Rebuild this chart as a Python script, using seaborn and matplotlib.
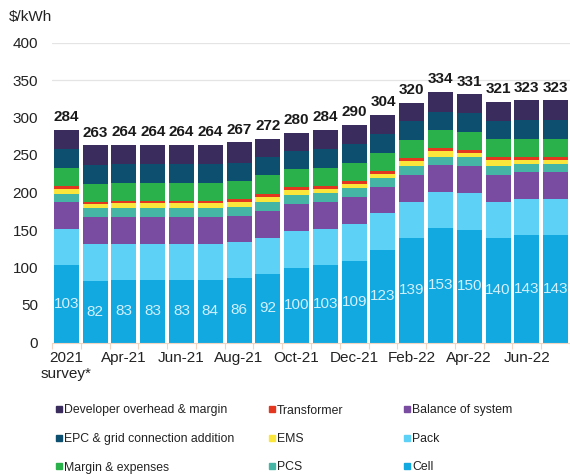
import matplotlib
matplotlib.use("Agg")
import matplotlib.pyplot as plt
import numpy as np
import pandas as pd
import seaborn as sns
from matplotlib.lines import Line2D

# Monthly battery storage system cost breakdown, $/kWh
periods = ["2021 survey*", "Mar-21", "Apr-21", "May-21", "Jun-21", "Jul-21",
           "Aug-21", "Sep-21", "Oct-21", "Nov-21", "Dec-21", "Jan-22",
           "Feb-22", "Mar-22", "Apr-22", "May-22", "Jun-22", "Jul-22"]
tick_labels = ["2021\nsurvey*", "Apr-21", "Jun-21", "Aug-21", "Oct-21",
               "Dec-21", "Feb-22", "Apr-22", "Jun-22"]

cell = [103, 82, 83, 83, 83, 84, 86, 92, 100, 103, 109, 123, 139, 153, 150, 140, 143, 143]
pack = [48, 49, 49, 49, 49, 48, 48, 48, 49, 49, 49, 50, 48, 48, 49, 48, 48, 48]
balance_of_system = [36, 36, 36, 36, 36, 36, 35, 36, 36, 35, 36, 35, 37, 36, 36, 36, 36, 36]
pcs = [11, 12, 12, 12, 12, 12, 12, 12, 12, 12, 12, 11, 12, 11, 12, 12, 11, 11]
ems = [7, 6, 6, 6, 6, 6, 6, 6, 6, 6, 6, 6, 6, 7, 6, 7, 6, 6]
transformer = [4, 3, 3, 3, 3, 3, 4, 4, 4, 4, 4, 4, 4, 4, 4, 4, 4, 4]
margin_expenses = [24, 24, 24, 24, 24, 24, 24, 25, 24, 24, 24, 24, 24, 24, 24, 24, 24, 24]
epc_grid = [25, 25, 25, 25, 25, 25, 25, 25, 25, 25, 25, 25, 25, 25, 25, 25, 25, 25]
developer_overhead = [26, 26, 26, 26, 26, 26, 27, 24, 24, 26, 25, 26, 25, 26, 25, 25, 26, 26]
totals = [284, 263, 264, 264, 264, 264, 267, 272, 280, 284, 290, 304, 320, 334, 331, 321, 323, 323]

# Components from the bottom of each stack to the top
components = [
    ("Cell", cell, "#12a8e0"),
    ("Pack", pack, "#5dd1f6"),
    ("Balance of system", balance_of_system, "#7a4ca1"),
    ("PCS", pcs, "#45b5a6"),
    ("EMS", ems, "#fbe63c"),
    ("Transformer", transformer, "#e3381f"),
    ("Margin & expenses", margin_expenses, "#2bb14b"),
    ("EPC & grid connection addition", epc_grid, "#0c4f6e"),
    ("Developer overhead & margin", developer_overhead, "#3a2c5c"),
]

df = pd.DataFrame({name: vals for name, vals, _ in components}, index=periods)
cumulative = df.cumsum(axis=1)

sns.set_theme(style="white")
plt.rcParams["font.family"] = ["Liberation Sans", "DejaVu Sans"]

fig = plt.figure(figsize=(5.7, 4.75), dpi=100)
ax = fig.add_axes([52 / 570, 132.5 / 475, 518 / 570, 300 / 475])

# Light reference lines above the bars
for level in (350, 400):
    ax.axhline(level, color="#e4e4e4", lw=0.9, zorder=0)

# Stack by overdrawing cumulative totals from the top component down
for name, _, color in reversed(components):
    sns.barplot(x=periods, y=cumulative[name].values, order=periods, color=color,
                saturation=1, width=0.866, linewidth=0, ax=ax, zorder=2)

top_bars = ax.containers[0]
cell_bars = ax.containers[-1]
ax.bar_label(top_bars, labels=[str(v) for v in totals], padding=4,
             fontsize=11, fontweight="bold", color="#1a1a1a")
ax.bar_label(cell_bars, labels=[str(v) for v in cell], label_type="center",
             fontsize=11, color="#d2f1fc")

ax.set_xlim(-0.5, 17.45)
ax.set_ylim(0, 400)
ax.set_yticks(np.arange(0, 401, 50))
ax.set_xticks(np.arange(0, 17, 2))
ax.set_xticklabels(tick_labels)
ax.set_xticks(np.arange(-0.5, 18, 1), minor=True)
ax.tick_params(axis="x", which="major", length=0, labelsize=11, pad=6, colors="#222222")
ax.tick_params(axis="x", which="minor", length=4, width=0.8, color="#f0d6c2", bottom=True)
ax.tick_params(axis="y", length=0, labelsize=11, pad=10, colors="#222222")
ax.set_xlabel("")
ax.set_ylabel("")

for side in ("left", "top", "right"):
    ax.spines[side].set_visible(False)
ax.spines["bottom"].set_color("#f0d6c2")
ax.spines["bottom"].set_linewidth(0.8)

fig.text(9 / 570, 1 - 17 / 475, "$/kWh", fontsize=11, va="center", ha="left", color="#222222")

# Legend laid out in three columns
legend_columns = [
    (["Developer overhead & margin", "EPC & grid connection addition", "Margin & expenses"], 55),
    (["Transformer", "EMS", "PCS"], 268),
    (["Balance of system", "Pack", "Cell"], 403),
]
color_of = {name: color for name, _, color in components}
for names, x_px in legend_columns:
    handles = [Line2D([], [], marker="s", linestyle="none", markersize=4,
                      color=color_of[n]) for n in names]
    fig.legend(handles, names, loc="upper left",
               bbox_to_anchor=(x_px / 570, 1 - 404.5 / 475),
               frameon=False, fontsize=8.8, handlelength=0.6, handletextpad=0.15,
               labelspacing=1.35, borderpad=0, borderaxespad=0,
               labelcolor="#222222")

fig.savefig("out.png", dpi=100)
